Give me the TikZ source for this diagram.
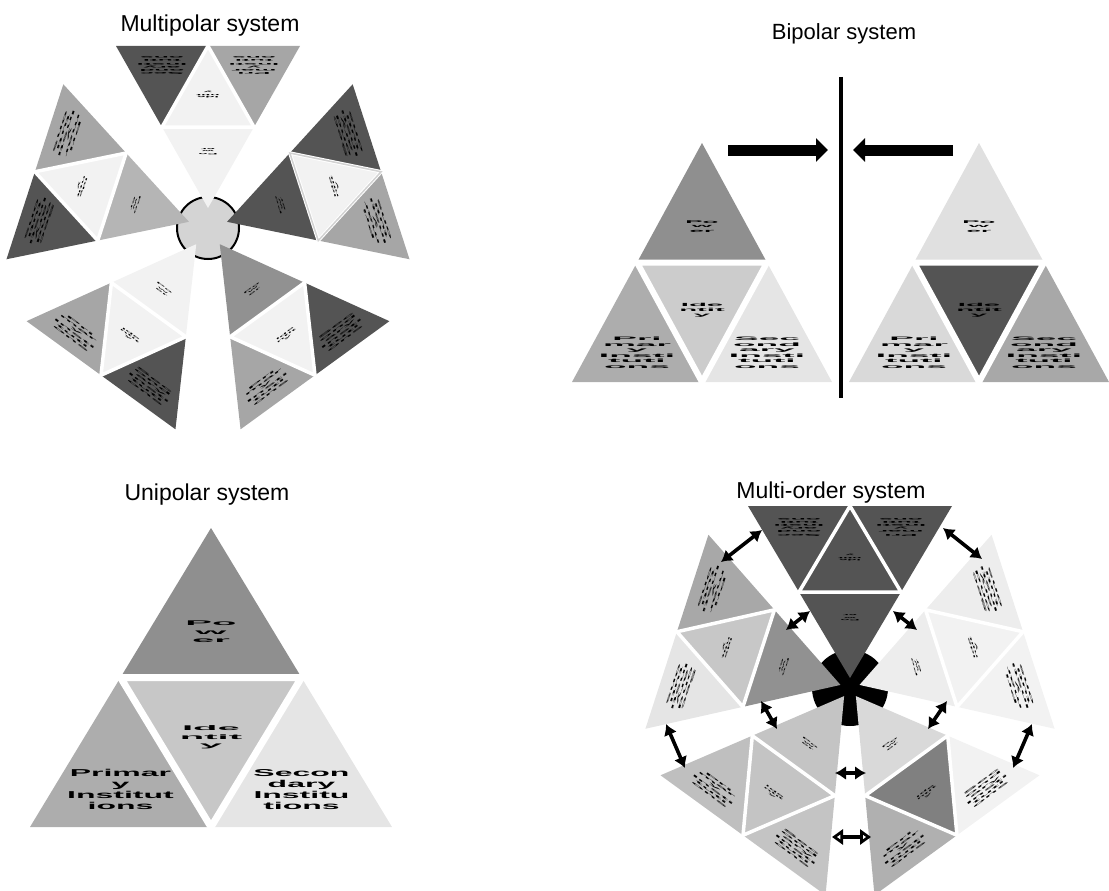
\documentclass[tikz,border=0pt]{standalone}
\usepackage{fontspec}
\setmainfont{Liberation Sans}
\usepackage{graphicx}
\usetikzlibrary{arrows.meta}

% grey tones of the triangles
\definecolor{tone55}{gray}{0.33}
\definecolor{tone80}{gray}{0.50}
\definecolor{tone8F}{gray}{0.56}
\definecolor{tone90}{gray}{0.57}
\definecolor{toneA5}{gray}{0.65}
\definecolor{toneA8}{gray}{0.66}
\definecolor{toneAE}{gray}{0.68}
\definecolor{toneB0}{gray}{0.69}
\definecolor{toneB4}{gray}{0.71}
\definecolor{toneC0}{gray}{0.75}
\definecolor{toneC4}{gray}{0.77}
\definecolor{toneC8}{gray}{0.78}
\definecolor{toneCB}{gray}{0.80}
\definecolor{toneD3}{gray}{0.83}
\definecolor{toneD8}{gray}{0.85}
\definecolor{toneE0}{gray}{0.88}
\definecolor{toneE6}{gray}{0.90}
\definecolor{toneEE}{gray}{0.93}
\definecolor{toneF2}{gray}{0.95}

% stretched block of short lines
\newcommand{\wideText}[3]{\scalebox{#1}[#2]{\begin{tabular}{@{}c@{}}#3\end{tabular}}}

\tikzset{
  title/.style={font=\fontsize{23}{27}\selectfont, anchor=base},
  lbl/.style={align=center, inner sep=0pt, text=black, transform shape},
  gapline/.style={white, line width=3pt},
  pushArrow/.style={line width=11pt, -{Triangle[length=12pt,width=23pt]}},
  linkArrow/.style={line width=3.6pt, {Latex[length=11pt,width=14pt]}-{Latex[length=11pt,width=14pt]}},
  openArrow/.style={line width=3.6pt, {Triangle[open,length=11pt,width=15pt,fill=white]}-{Triangle[open,length=11pt,width=15pt,fill=white]}},
}

% four triangles of one pyramid, apex turned to the centre
\newcommand{\cluster}[7]{%
  \begin{scope}[shift={#2}, rotate=#3]
    \coordinate (#1-a) at (0,\apexoff);
    \coordinate (#1-b) at (-\halfw,\apexoff+\pyrh);
    \coordinate (#1-c) at (\halfw,\apexoff+\pyrh);
    \coordinate (#1-ab) at (-\halfw/2,\apexoff+\pyrh/2);
    \coordinate (#1-ac) at (\halfw/2,\apexoff+\pyrh/2);
    \coordinate (#1-bc) at (0,\apexoff+\pyrh);
    \fill[#4] (#1-a) -- (#1-ab) -- (#1-ac) -- cycle;
    \fill[#5] (#1-ab) -- (#1-ac) -- (#1-bc) -- cycle;
    \fill[#6] (#1-ab) -- (#1-b) -- (#1-bc) -- cycle;
    \fill[#7] (#1-ac) -- (#1-bc) -- (#1-c) -- cycle;
    \draw[gapline] (#1-ab) -- (#1-ac) -- (#1-bc) -- cycle;
    \node[powerlbl] (#1-power) at (0,\apexoff+0.35*\pyrh) {\powertxt};
    \node[idlbl] (#1-identity) at (0,\apexoff+0.70*\pyrh) {\idtxt};
    \node[primlbl] (#1-primary) at (-\halfw/2,\apexoff+0.88*\pyrh) {\primtxt};
    \node[seclbl] (#1-secondary) at (\halfw/2,\apexoff+0.88*\pyrh) {\sectxt};
  \end{scope}}

\begin{document}
\begin{tikzpicture}[x=1pt, y=-1pt]
    \useasboundingbox (0,0) rectangle (1109,891);

    % Titles
    \node[title] (multiTitle) at (210,32) {Multipolar system};
    \node[title, font=\fontsize{22}{26}\selectfont] (biTitle) at (844,40) {Bipolar system};
    \node[title] (uniTitle) at (207,500) {Unipolar system};
    \node[title] (orderTitle) at (831,498) {Multi-order system};

    % Multipolar system
    \begin{scope}[gapline/.style={white, line width=3.5pt},
        powerlbl/.style={lbl, font=\bfseries\fontsize{2.5}{3}\selectfont},
        idlbl/.style={lbl, font=\bfseries\fontsize{2.5}{3}\selectfont},
        primlbl/.style={lbl, font=\bfseries\fontsize{3.5}{4}\selectfont},
        seclbl/.style={lbl, font=\bfseries\fontsize{3.5}{4}\selectfont}]
        \def\apexoff{20}\def\pyrh{162}\def\halfw{92}
        \def\powertxt{\wideText{6}{0.8}{Po\\w\\er}}
        \def\idtxt{\wideText{6}{0.8}{Ide\\ntit\\y}}
        \def\primtxt{\wideText{7}{0.8}{Pri\\mar\\y\\Insti\\tuti\\ons}}
        \def\sectxt{\wideText{7}{0.8}{Sec\\ond\\ary\\Insti\\tuti\\ons}}
        \coordinate (multiCentre) at (208,228);
        \draw[fill=toneD3, line width=2pt] (multiCentre) circle[radius=31pt];
        \cluster{mpTop}{(multiCentre)}{180}{toneF2}{toneF2}{toneA5}{tone55}
        \cluster{mpLeft}{(multiCentre)}{252}{toneB4}{toneF2}{toneA5}{tone55}
        \cluster{mpRight}{(multiCentre)}{108}{tone55}{toneF2}{toneA5}{tone55}
        \cluster{mpLowLeft}{(multiCentre)}{-36}{toneF2}{toneF2}{toneA5}{tone55}
        \cluster{mpLowRight}{(multiCentre)}{36}{tone90}{toneF2}{toneA5}{tone55}
        \draw[gray!35, line width=1.5pt] (mpRight-ab) -- (mpRight-ac) -- (mpRight-bc) -- cycle;
    \end{scope}

    % Bipolar system
    \begin{scope}[gapline/.style={white, line width=6pt},
        powerlbl/.style={lbl, font=\bfseries\fontsize{4}{4.5}\selectfont},
        idlbl/.style={lbl, font=\bfseries\fontsize{4.5}{5}\selectfont},
        primlbl/.style={lbl, font=\bfseries\fontsize{5}{5.6}\selectfont},
        seclbl/.style={lbl, font=\bfseries\fontsize{5}{5.6}\selectfont}]
        \def\apexoff{0}\def\pyrh{239}\def\halfw{130}
        \def\powertxt{\wideText{6.5}{1}{Po\\w\\er}}
        \def\idtxt{\wideText{6.5}{1}{Ide\\ntit\\y}}
        \def\primtxt{\wideText{7.4}{1}{Pri\\mar\\y\\Insti\\tuti\\ons}}
        \def\sectxt{\wideText{7.4}{1}{Sec\\ond\\ary\\Insti\\tuti\\ons}}
        \cluster{biLeft}{(702,143)}{0}{tone8F}{toneCB}{toneAE}{toneE6}
        \cluster{biRight}{(979,143)}{0}{toneE0}{tone55}{toneD8}{toneA8}

        % the dividing wall and the two pushes
        \coordinate (wallTop) at (841,77);
        \coordinate (wallBottom) at (841,398);
        \draw[line width=4pt] (wallTop) -- (wallBottom);
        \coordinate (pushLeftStart) at (728,150);
        \coordinate (pushLeftEnd) at (828,150);
        \coordinate (pushRightStart) at (953,150);
        \coordinate (pushRightEnd) at (853,150);
        \draw[pushArrow] (pushLeftStart) -- (pushLeftEnd);
        \draw[pushArrow] (pushRightStart) -- (pushRightEnd);
    \end{scope}

    % Unipolar system
    \begin{scope}[gapline/.style={white, line width=7pt},
        powerlbl/.style={lbl, font=\bfseries\fontsize{8}{10}\selectfont},
        idlbl/.style={lbl, font=\bfseries\fontsize{8}{10}\selectfont},
        primlbl/.style={lbl, font=\bfseries\fontsize{10}{11}\selectfont},
        seclbl/.style={lbl, font=\bfseries\fontsize{10}{11}\selectfont}]
        \def\apexoff{0}\def\pyrh{299}\def\halfw{181}
        \def\powertxt{\wideText{5}{0.85}{Po\\w\\er}}
        \def\idtxt{\wideText{5}{0.85}{Ide\\ntit\\y}}
        \def\primtxt{\wideText{3.2}{1}{Primar\\y\\Institut\\ions}}
        \def\sectxt{\wideText{3.2}{1}{Secon\\dary\\Institu\\tions}}
        \cluster{uni}{(211,528)}{0}{tone8F}{toneC8}{toneAE}{toneE6}
    \end{scope}

    % Multi-order system
    \begin{scope}[gapline/.style={white, line width=3.5pt},
        powerlbl/.style={lbl, font=\bfseries\fontsize{2.5}{3}\selectfont},
        idlbl/.style={lbl, font=\bfseries\fontsize{2.5}{3}\selectfont},
        primlbl/.style={lbl, font=\bfseries\fontsize{3.5}{4}\selectfont},
        seclbl/.style={lbl, font=\bfseries\fontsize{3.5}{4}\selectfont}]
        \def\apexoff{10}\def\pyrh{172}\def\halfw{102}
        \def\powertxt{\wideText{6}{0.8}{Po\\w\\er}}
        \def\idtxt{\wideText{6}{0.8}{Ide\\ntit\\y}}
        \def\primtxt{\wideText{7}{0.8}{Pri\\mar\\y\\Insti\\tuti\\ons}}
        \def\sectxt{\wideText{7}{0.8}{Sec\\ond\\ary\\Insti\\tuti\\ons}}
        \coordinate (orderCentre) at (850,688);
        \fill[black] (orderCentre) circle[radius=38pt];
        \cluster{moTop}{(orderCentre)}{180}{tone55}{tone55}{tone55}{tone55}
        \cluster{moLeft}{(orderCentre)}{252}{tone90}{toneC8}{toneA8}{toneE6}
        \cluster{moRight}{(orderCentre)}{108}{toneEE}{toneF2}{toneF2}{toneEE}
        \cluster{moLowLeft}{(orderCentre)}{-36}{toneC4}{toneC4}{toneC0}{toneC4}
        \cluster{moLowRight}{(orderCentre)}{36}{toneD8}{tone80}{toneB0}{toneF2}

        % links between the pyramids
        \coordinate (outerA1) at (762,530);  \coordinate (outerA2) at (721,562);
        \coordinate (outerB1) at (943,528);  \coordinate (outerB2) at (982,559);
        \coordinate (outerC1) at (666,724);  \coordinate (outerC2) at (685,768);
        \coordinate (outerD1) at (1032,724); \coordinate (outerD2) at (1013,768);
        \coordinate (outerE1) at (832,837);  \coordinate (outerE2) at (871,837);
        \coordinate (innerA1) at (810,611);  \coordinate (innerA2) at (786,630);
        \coordinate (innerB1) at (893,611);  \coordinate (innerB2) at (917,630);
        \coordinate (innerC1) at (761,701);  \coordinate (innerC2) at (777,729);
        \coordinate (innerD1) at (947,701);  \coordinate (innerD2) at (928,729);
        \coordinate (innerE1) at (835,773);  \coordinate (innerE2) at (866,773);
        \draw[linkArrow] (outerA1) -- (outerA2);
        \draw[linkArrow] (outerB1) -- (outerB2);
        \draw[linkArrow] (outerC1) -- (outerC2);
        \draw[linkArrow] (outerD1) -- (outerD2);
        \draw[openArrow] (outerE1) -- (outerE2);
        \draw[linkArrow] (innerA1) -- (innerA2);
        \draw[linkArrow] (innerB1) -- (innerB2);
        \draw[linkArrow] (innerC1) -- (innerC2);
        \draw[linkArrow] (innerD1) -- (innerD2);
        \draw[linkArrow] (innerE1) -- (innerE2);
    \end{scope}
\end{tikzpicture}
\end{document}
